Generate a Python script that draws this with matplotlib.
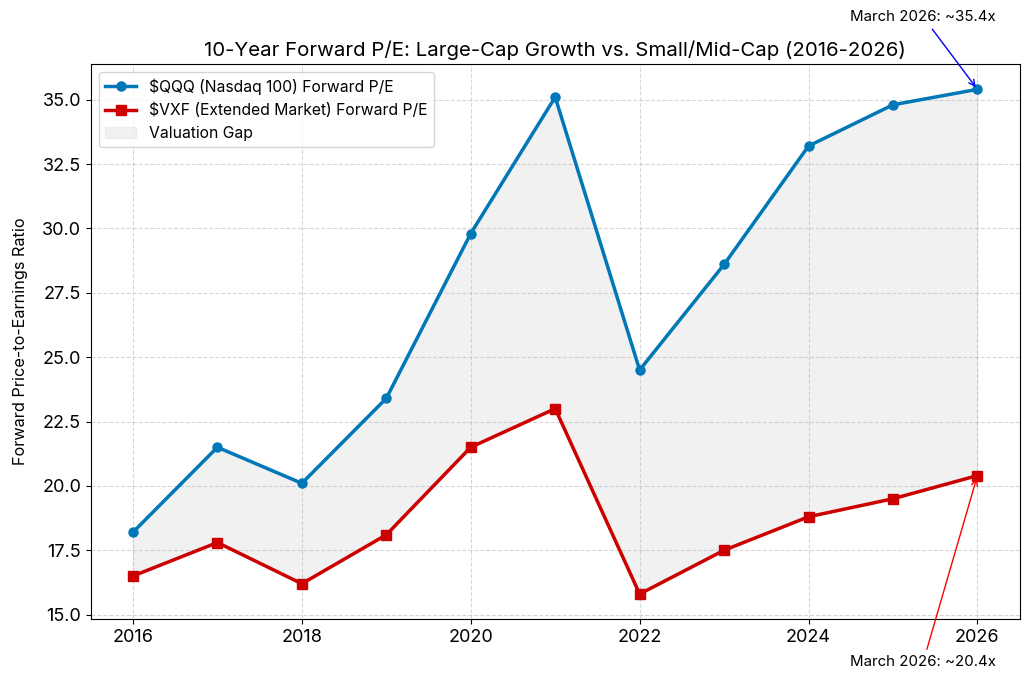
import numpy as np
import matplotlib.pyplot as plt

plt.rcParams['font.family'] = ['Inter', 'DejaVu Sans']

years = [2016, 2017, 2018, 2019, 2020, 2021, 2022, 2023, 2024, 2025, 2026]
qqq_pe = [18.2, 21.5, 20.1, 23.4, 29.8, 35.1, 24.5, 28.6, 33.2, 34.8, 35.4]
vxf_pe = [16.5, 17.8, 16.2, 18.1, 21.5, 23.0, 15.8, 17.5, 18.8, 19.5, 20.4]

fig, ax = plt.subplots(figsize=(10.31, 6.82), dpi=100)
ax.plot(years, qqq_pe, 'o-', color='#0077b6', lw=2.5, ms=6.5, label=r'\$QQQ (Nasdaq 100) Forward P/E')
ax.plot(years, vxf_pe, 's-', color='#cc0000', lw=2.5, ms=6.5, label=r'\$VXF (Extended Market) Forward P/E')
ax.fill_between(years, vxf_pe, qqq_pe, color='lightgray', alpha=0.3, label='Valuation Gap')

ax.set_title('10-Year Forward P/E: Large-Cap Growth vs. Small/Mid-Cap (2016-2026)', fontsize=14.7)
ax.set_ylabel('Forward Price-to-Earnings Ratio', fontsize=11.7, labelpad=10)
ax.tick_params(labelsize=13)
ax.grid(True, linestyle='--', alpha=0.5)
ax.legend(loc='upper left', fontsize=11.3)

ax.annotate(f'March 2026: ~{qqq_pe[-1]}x', xy=(years[-1], qqq_pe[-1]), xytext=(-39, 52),
            textcoords='offset points', ha='center', va='center', fontsize=10.8,
            arrowprops=dict(arrowstyle='->', color='blue'))
ax.annotate(f'March 2026: ~{vxf_pe[-1]}x', xy=(years[-1], vxf_pe[-1]), xytext=(-39, -134),
            textcoords='offset points', ha='center', va='center', fontsize=10.8,
            arrowprops=dict(arrowstyle='->', color='red'))

fig.subplots_adjust(left=0.088, right=0.989, top=0.906, bottom=0.092)
plt.savefig('out.png', dpi=100)
plt.close()
